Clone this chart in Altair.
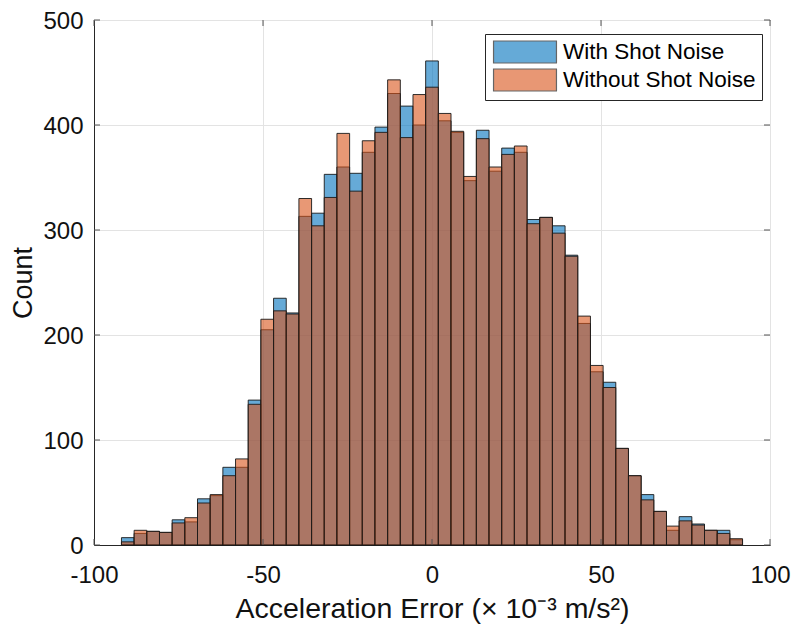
import altair as alt
import pandas as pd

# Bin centres (x 10^-3 m/s^2), bin width 3.75
bin_width = 3.75
centers = [k * 3.75 for k in range(-24, 25)]

with_noise = [7, 11, 13, 12, 24, 22, 44, 47, 74, 74, 138, 205, 235, 221, 313, 316,
              353, 360, 354, 374, 398, 430, 418, 400, 461, 404, 393, 347, 395, 356,
              378, 374, 310, 312, 304, 276, 211, 165, 155, 92, 66, 48, 32, 14, 27,
              20, 14, 14, 5]
without_noise = [3, 14, 13, 12, 21, 26, 40, 48, 66, 82, 134, 215, 223, 220, 330, 304,
                 331, 392, 337, 385, 393, 443, 388, 429, 436, 411, 394, 351, 387, 360,
                 372, 380, 306, 312, 297, 275, 218, 171, 150, 92, 66, 43, 32, 18, 23,
                 19, 14, 11, 6]
series_names = ["With Shot Noise", "Without Shot Noise"]
series_colors = ["#0072BD", "#D95319"]

x_ticks = [-100, -50, 0, 50, 100]
y_ticks = [0, 100, 200, 300, 400, 500]

rows = []
for name, vals in zip(series_names, [with_noise, without_noise]):
    for c, v in zip(centers, vals):
        rows.append({"lo": c - bin_width / 2, "hi": c + bin_width / 2,
                     "count": v, "base": 0, "series": name})
df = pd.DataFrame(rows)

W, H = 676, 525
FONT = "Liberation Sans"
TICK_LEN = 6
TICK_COLOR = "#555555"

xscale = alt.Scale(domain=[-100, 100], nice=False, zero=False)
yscale = alt.Scale(domain=[0, 500], nice=False)

bars = alt.Chart(df).mark_bar(
    fillOpacity=0.6, stroke="#1a1a1a", strokeWidth=1, strokeOpacity=0.9
).encode(
    x=alt.X("lo:Q", scale=xscale,
            axis=alt.Axis(values=x_ticks, title="Acceleration Error (× 10⁻³ m/s²)",
                          labelExpr="'' + datum.value",
                          labelFontSize=24, titleFontSize=28.5, labelPadding=18,
                          labelFlush=False, titlePadding=7, ticks=False, grid=True)),
    x2="hi:Q",
    y=alt.Y("count:Q", stack=None, scale=yscale,
            axis=alt.Axis(values=y_ticks, title="Count",
                          labelFontSize=24, titleFontSize=27, labelPadding=11,
                          labelOffset=1.5, labelFlush=False, titlePadding=5,
                          ticks=False, grid=True)),
    y2="base:Q",
    color=alt.Color("series:N", scale=alt.Scale(domain=series_names, range=series_colors),
                    sort=series_names,
                    legend=alt.Legend(title=None, orient="none", legendX=391, legendY=14,
                                      direction="vertical",
                                      symbolType="M-2.86,-1H2.86V1H-2.86Z", symbolSize=484,
                                      symbolStrokeColor="#000000", symbolStrokeWidth=1.2,
                                      symbolOpacity=0.6, symbolOffset=22,
                                      labelOffset=26, labelFontSize=22.5, labelFont=FONT,
                                      labelColor="#000000", labelLimit=400, rowPadding=0,
                                      padding=6, strokeColor="#262626", fillColor="#ffffff")),
)

# inward tick marks on all four sides of the box
ydf = pd.DataFrame({"v": y_ticks})
xdf = pd.DataFrame({"v": x_ticks})
left_ticks = alt.Chart(ydf).mark_rule(color=TICK_COLOR, strokeWidth=1).encode(
    y=alt.Y("v:Q", scale=yscale), x=alt.value(0), x2=alt.value(TICK_LEN))
right_ticks = alt.Chart(ydf).mark_rule(color=TICK_COLOR, strokeWidth=1).encode(
    y=alt.Y("v:Q", scale=yscale), x=alt.value(W - TICK_LEN), x2=alt.value(W))
bottom_ticks = alt.Chart(xdf).mark_rule(color=TICK_COLOR, strokeWidth=1).encode(
    x=alt.X("v:Q", scale=xscale), y=alt.value(H - TICK_LEN), y2=alt.value(H))
top_ticks = alt.Chart(xdf).mark_rule(color=TICK_COLOR, strokeWidth=1).encode(
    x=alt.X("v:Q", scale=xscale), y=alt.value(0), y2=alt.value(TICK_LEN))

chart = alt.layer(bars, left_ticks, right_ticks, bottom_ticks, top_ticks).properties(
    width=W, height=H,
    autosize=alt.AutoSizeParams(type="none"),
    padding={"left": 86, "top": 12, "right": 21, "bottom": 82},
    background="#ffffff",
).configure_view(
    stroke="#262626", strokeWidth=1
).configure_axis(
    labelFont=FONT, titleFont=FONT, labelColor="#111111", titleColor="#111111",
    titleFontWeight="normal", domainColor="#262626", gridColor="#e3e3e3", gridWidth=1,
)

chart.save("out.html", embed_options={"renderer": "svg", "actions": False})
